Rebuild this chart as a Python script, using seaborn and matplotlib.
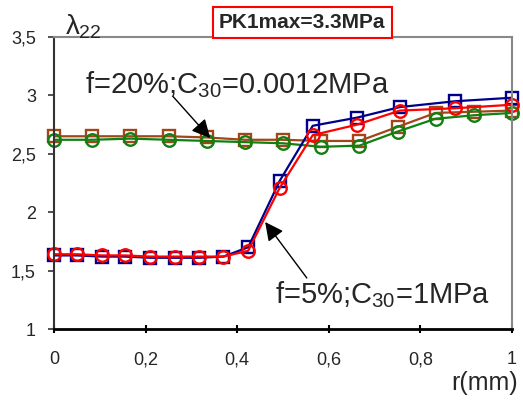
import numpy as np
import pandas as pd
import matplotlib
matplotlib.use("Agg")
import matplotlib.pyplot as plt
import seaborn as sns

# =========================
# DATA
# =========================
r_5 = [0, 0.05, 0.105, 0.155, 0.21, 0.265, 0.317, 0.37, 0.424, 0.493, 0.565, 0.662, 0.755, 0.876, 1.0]
lam_5_sq = [1.63, 1.63, 1.62, 1.62, 1.61, 1.61, 1.61, 1.62, 1.70, 2.27, 2.74, 2.81, 2.90, 2.95, 2.98]
lam_5_ci = [1.64, 1.64, 1.63, 1.63, 1.62, 1.62, 1.62, 1.62, 1.67, 2.21, 2.66, 2.75, 2.87, 2.89, 2.92]

r_20 = [0, 0.083, 0.167, 0.25, 0.333, 0.417, 0.5, 0.583, 0.667, 0.75, 0.833, 0.917, 1.0]
lam_20_sq = [2.65, 2.65, 2.65, 2.65, 2.64, 2.62, 2.62, 2.61, 2.61, 2.73, 2.85, 2.86, 2.87]
lam_20_ci = [2.62, 2.62, 2.63, 2.62, 2.61, 2.60, 2.59, 2.56, 2.57, 2.69, 2.80, 2.83, 2.85]

x_ticks = [0, 0.2, 0.4, 0.6, 0.8, 1.0]
x_labels = ["0", "0,2", "0,4", "0,6", "0,8", "1"]
y_ticks = [1, 1.5, 2, 2.5, 3, 3.5]
y_labels = ["1", "1,5", "2", "2,5", "3", "3,5"]

# =========================
# STYLE
# =========================
sns.set_style("white")
plt.rcParams["font.family"] = ["Liberation Sans", "DejaVu Sans"]
plt.rcParams["mathtext.fontset"] = "custom"
plt.rcParams["mathtext.rm"] = "Liberation Sans"
plt.rcParams["mathtext.it"] = "Liberation Sans"

fig = plt.figure(figsize=(5.23, 4.03), dpi=100)
ax = fig.add_axes([54 / 523, 1 - 329 / 403, 458 / 523, 292 / 403])


def draw(x, y, color, marker):
    df = pd.DataFrame({"r": x, "lam": y})
    sns.lineplot(data=df, x="r", y="lam", ax=ax, color=color, lw=1.6,
                 marker=marker, markersize=9, markerfacecolor="none",
                 markeredgecolor=color, markeredgewidth=1.7,
                 estimator=None, sort=False, clip_on=False)


draw(r_20, lam_20_sq, "#a0461a", "s")
draw(r_20, lam_20_ci, "#118011", "o")
draw(r_5, lam_5_sq, "#00008b", "s")
draw(r_5, lam_5_ci, "#ff0000", "o")

ax.set_xlim(0, 1)
ax.set_ylim(1, 3.5)
ax.set_xticks(x_ticks)
ax.set_xticklabels(x_labels)
ax.set_yticks(y_ticks)
ax.set_yticklabels(y_labels)
ax.set_xlabel("")
ax.set_ylabel("")
ax.tick_params(axis="x", direction="inout", length=6, width=1.5, pad=13,
               labelsize=13, bottom=True, color="black")
ax.tick_params(axis="y", direction="out", length=4, width=1.2, pad=9,
               labelsize=13, left=True, color="#333333")

for side in ["top", "right"]:
    ax.spines[side].set_color("#888888")
    ax.spines[side].set_linewidth(1.5)
ax.spines["left"].set_color("#333333")
ax.spines["left"].set_linewidth(1.5)
ax.spines["bottom"].set_color("black")
ax.spines["bottom"].set_linewidth(2)

# =========================
# TEXTS AND ARROWS
# =========================
ax.text(0.025, 3.52, r"$\lambda_{22}$", fontsize=20, ha="left", va="baseline",
        clip_on=False)

ax.annotate("", xy=(0.341, 2.635), xytext=(0.26, 2.99),
            arrowprops=dict(arrowstyle="-|>", color="black", lw=1,
                            mutation_scale=28, shrinkA=0, shrinkB=0))
ax.text(0.068, 3.02, r"f=20%;C$_{30}$=0.0012MPa", fontsize=21,
        ha="left", va="baseline")

ax.annotate("", xy=(0.461, 1.916), xytext=(0.552, 1.437),
            arrowprops=dict(arrowstyle="-|>", color="black", lw=1,
                            mutation_scale=28, shrinkA=0, shrinkB=0))
ax.text(0.483, 1.22, r"f=5%;C$_{30}$=1MPa", fontsize=21,
        ha="left", va="baseline")

fig.text(302 / 523, 1 - 22.5 / 403, "PK1max=3.3MPa", fontsize=15,
         fontweight="bold", ha="center", va="center",
         bbox=dict(boxstyle="square,pad=0.3", facecolor="white",
                   edgecolor="red", lw=1.5))

fig.text(518 / 523, 1 - 390 / 403, "r(mm)", fontsize=18, ha="right",
         va="baseline")

fig.savefig("out.png", dpi=100)
